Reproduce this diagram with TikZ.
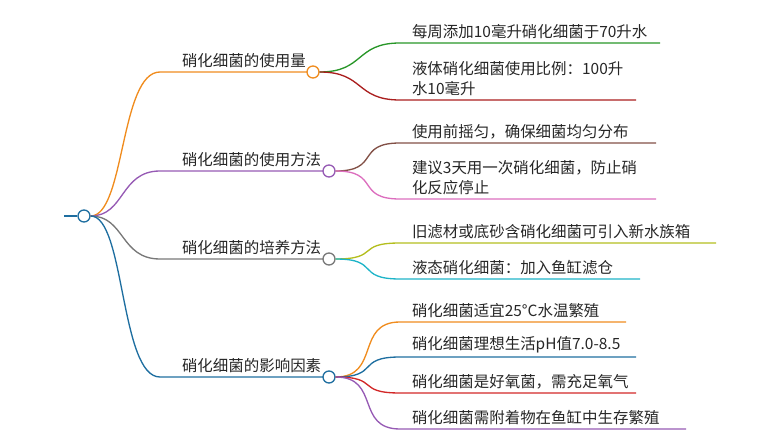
\documentclass[tikz,border=0pt]{standalone}
\usepackage{fontspec}
\setmainfont{Noto Sans CJK SC}
\definecolor{corange}{RGB}{240,140,30}
\definecolor{cpurple}{RGB}{150,90,180}
\definecolor{cgray}{RGB}{120,120,120}
\definecolor{cblue}{RGB}{30,110,160}
\definecolor{cgreen}{RGB}{40,150,40}
\definecolor{cdred}{RGB}{170,30,30}
\definecolor{cbrown}{RGB}{130,80,70}
\definecolor{cpink}{RGB}{220,110,190}
\definecolor{cyel}{RGB}{180,190,30}
\definecolor{cteal}{RGB}{30,180,200}
\definecolor{cred}{RGB}{210,40,40}
\tikzset{
  txt/.style={anchor=south west,inner sep=1pt,font=\fontsize{11.6pt}{15pt}\selectfont,align=left,text=black!85},
  hub/.style={circle,draw,fill=white,line width=1pt,minimum size=9pt,inner sep=0pt},
}
\begin{document}
\begin{tikzpicture}[x=0.75pt,y=-0.75pt,line width=1pt]
    \useasboundingbox (0,0) rectangle (780,441);
    % root
    \coordinate (r0) at (64,216);
    \node[hub,draw=cblue] (root) at (84,216) {};
    \draw[cblue] (r0) -- (root);
    % branches: y of line, color, text, x end
    \foreach \y/\c/\t/\e [count=\i] in {72/corange/硝化细菌的使用量/313,171/cpurple/硝化细菌的使用方法/329,259/cgray/硝化细菌的培养方法/329,377/cblue/硝化细菌的影响因素/329}{
        \coordinate (s\i) at (160,\y);
        \draw[\c] (root.east) .. controls (125,216) and (120,\y) .. (s\i) -- (\e,\y);
        \node[txt] (t\i) at (180,\y-2) {\t};
        \node[hub,draw=\c] (b\i) at (\e,\y) {};
    }
    % leaves: branch, y of line, color, x end, text
    \foreach \b/\y/\c/\e/\t in {
        1/43/cgreen/660/每周添加10毫升硝化细菌于70升水,
        1/100/cdred/636/{液体硝化细菌使用比例：100升\\水10毫升},
        2/143/cbrown/656/使用前摇匀，确保细菌均匀分布,
        2/199/cpink/656/{建议3天用一次硝化细菌，防止硝\\化反应停止},
        3/243/cyel/716/旧滤材或底砂含硝化细菌可引入新水族箱,
        3/279/cteal/640/液态硝化细菌：加入鱼缸滤仓,
        4/322/corange/626/硝化细菌适宜25°C水温繁殖,
        4/357/cblue/636/硝化细菌理想生活pH值7.0-8.5,
        4/393/cred/636/硝化细菌是好氧菌，需充足氧气,
        4/429/cpurple/686/硝化细菌需附着物在鱼缸中生存繁殖}{
        \coordinate (l) at (400,\y);
        \draw[\c] (b\b.east) .. controls +(45,0) and +(-45,0) .. (l) -- (\e,\y);
        \node[txt] at (410,\y-2) {\t};
    }
\end{tikzpicture}
\end{document}
